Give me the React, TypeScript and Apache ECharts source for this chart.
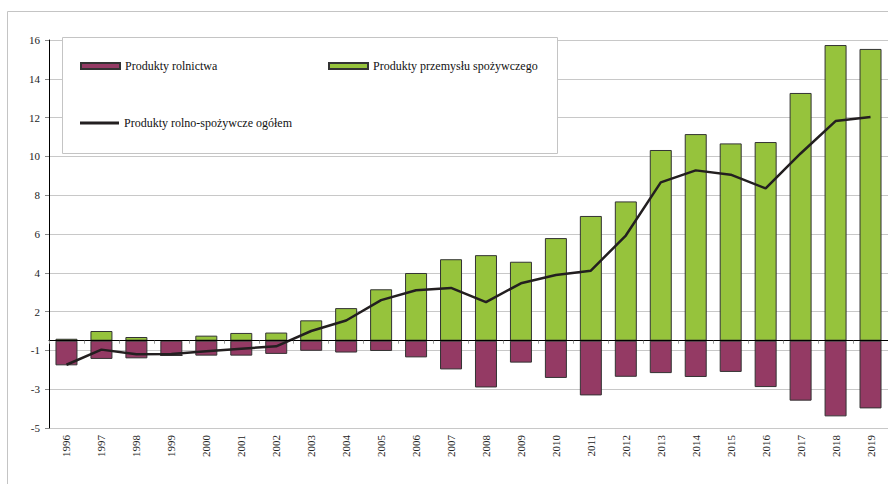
import React, { useEffect, useRef } from "react";
import * as echarts from "echarts";

const years = ["1996","1997","1998","1999","2000","2001","2002","2003","2004","2005","2006","2007","2008","2009","2010","2011","2012","2013","2014","2015","2016","2017","2018","2019"];
const agriculture = [-1.27,-0.94,-0.91,-0.76,-0.77,-0.77,-0.68,-0.52,-0.61,-0.53,-0.86,-1.48,-2.41,-1.13,-1.92,-2.82,-1.86,-1.67,-1.87,-1.61,-2.39,-3.09,-3.9,-3.49];
const foodIndustry = [0.1,0.5,0.19,0,0.26,0.4,0.42,1.05,1.68,2.65,3.49,4.2,4.41,4.07,5.29,6.43,7.18,9.83,10.65,10.17,10.24,12.77,15.24,15.04];
const total = [-1.24,-0.46,-0.7,-0.69,-0.55,-0.41,-0.29,0.5,1.04,2.09,2.6,2.72,1.99,2.96,3.39,3.61,5.42,8.16,8.78,8.56,7.85,9.65,11.32,11.53];

const names = ["Produkty rolnictwa", "Produkty przemysłu spożywczego", "Produkty rolno-spożywcze ogółem"];

const FONT = "'Liberation Serif', 'Times New Roman', serif";
const PURPLE = "#943A64";
const GREEN = "#96C33C";
const BORDER = "#333333";

export default function App() {
  const ref = useRef<HTMLDivElement>(null);
  useEffect(() => {
    if (!ref.current) return;
    const chart = echarts.init(ref.current, undefined, { renderer: "svg" });
    const legendText = { fontFamily: FONT, fontSize: 12, color: "#111" };
    chart.setOption({
      animation: false,
      backgroundColor: "#fff",
      textStyle: { fontFamily: FONT },
      grid: { left: 49, top: 40, width: 842.4, height: 388, containLabel: false },
      graphic: [
        { type: "rect", z: 0, silent: true, shape: { x: 7.5, y: 11.5, width: 900, height: 500 }, style: { fill: "none", stroke: "#c4c4c4", lineWidth: 1 } },
        { type: "rect", z: 1, silent: true, shape: { x: 62.5, y: 37.5, width: 495, height: 116 }, style: { fill: "#fff", stroke: "#c4c4c4", lineWidth: 1 } },
      ],
      legend: [
        { data: [names[0]], left: 80, top: 60, padding: 0, itemWidth: 39, itemHeight: 6, icon: "rect", textStyle: legendText, z: 5 },
        { data: [names[1]], left: 328, top: 60, padding: 0, itemWidth: 39, itemHeight: 6, icon: "rect", textStyle: legendText, z: 5 },
        { data: [{ name: names[2], icon: "rect" }], left: 80, top: 117, padding: 0, itemWidth: 39, itemHeight: 3, textStyle: legendText, z: 5 },
      ],
      xAxis: [
        {
          type: "category",
          data: years,
          position: "bottom",
          z: 5,
          axisLine: { onZero: true, lineStyle: { color: "#000", width: 1 } },
          axisTick: { show: true, length: 3, lineStyle: { color: "#999" } },
          axisLabel: { show: false },
          splitLine: { show: false },
        },
        {
          type: "category",
          data: years,
          position: "bottom",
          axisLine: { show: false, onZero: false },
          axisTick: { show: false },
          axisLabel: { rotate: 90, margin: 7, fontFamily: FONT, fontSize: 11, color: "#222", interval: 0 },
          splitLine: { show: false },
        },
      ],
      yAxis: {
        type: "value",
        min: -4.5,
        max: 15.5,
        interval: 2,
        axisLine: { show: true, lineStyle: { color: "#000", width: 1 } },
        axisTick: { show: true, length: 4, lineStyle: { color: "#888" } },
        axisLabel: {
          margin: 9,
          fontFamily: FONT,
          fontSize: 11,
          color: "#222",
          formatter: (v: number) => String(Math.round(v > 0 ? v + 0.5 : v - 0.5)),
        },
        splitLine: { show: true, lineStyle: { color: "#c8c8c8", width: 1 } },
      },
      series: [
        {
          name: names[0],
          type: "bar",
          stack: "s",
          barWidth: 22,
          data: agriculture,
          itemStyle: { color: PURPLE, borderColor: BORDER, borderWidth: 1 },
        },
        {
          name: names[1],
          type: "bar",
          stack: "s",
          barWidth: 22,
          data: foodIndustry,
          itemStyle: { color: GREEN, borderColor: BORDER, borderWidth: 1 },
        },
        {
          name: names[2],
          type: "line",
          data: total,
          symbol: "none",
          z: 4,
          lineStyle: { color: "#231F20", width: 2.5 },
          itemStyle: { color: "#231F20" },
        },
      ],
    });
    return () => chart.dispose();
  }, []);
  return <div ref={ref} style={{ position: "absolute", left: 0, top: 0, width: 888, height: 484 }} />;
}
